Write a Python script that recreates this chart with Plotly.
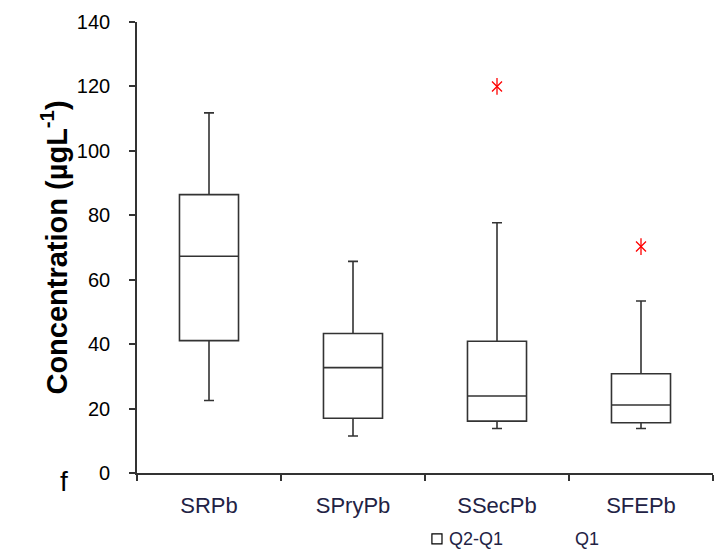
import plotly.graph_objects as go

categories = ["SRPb", "SPryPb", "SSecPb", "SFEPb"]
whisker_low = [22.5, 11.5, 13.8, 13.8]
q1 = [41.1, 17.0, 16.1, 15.6]
median = [67.3, 32.7, 23.9, 21.1]
q3 = [86.4, 43.3, 40.9, 30.8]
whisker_high = [111.8, 65.7, 77.7, 53.4]

outlier_cats = ["SSecPb", "SFEPb"]
outlier_vals = [120.0, 70.3]

y_ticks = [0, 20, 40, 60, 80, 100, 120, 140]

FONT = "Liberation Sans, Arial, sans-serif"
LINE = "#333333"

fig = go.Figure()
fig.add_trace(go.Box(
    x=categories, q1=q1, median=median, q3=q3,
    lowerfence=whisker_low, upperfence=whisker_high,
    width=0.41, whiskerwidth=0.17,
    fillcolor="white", line=dict(color=LINE, width=1.6),
    boxpoints=False, showlegend=False, hoverinfo="skip",
))
for sym in ["x-thin-open", "line-ns-open"]:
    fig.add_trace(go.Scatter(
        x=outlier_cats, y=outlier_vals, mode="markers",
        marker=dict(symbol=sym, size=10 if sym == "x-thin-open" else 12,
                    color="red", line=dict(color="red", width=1.3)),
        showlegend=False, hoverinfo="skip",
    ))

fig.update_layout(
    width=722, height=551,
    margin=dict(l=137, r=9, t=22, b=78),
    plot_bgcolor="white", paper_bgcolor="white",
    font=dict(family=FONT, color="black"),
    showlegend=False,
    xaxis=dict(
        type="category", categoryorder="array", categoryarray=categories,
        range=[-0.5, 3.5], showline=True, linecolor=LINE, linewidth=1.6,
        ticks="outside", ticklen=6, tickcolor=LINE, tickwidth=1.6,
        tickson="boundaries", showgrid=False, zeroline=False,
        tickfont=dict(size=22, color="#222244"), ticklabelstandoff=12,
    ),
    yaxis=dict(
        range=[0, 140], tickvals=y_ticks, showline=True, linecolor=LINE,
        linewidth=1.6, ticks="outside", ticklen=6, tickcolor=LINE,
        tickwidth=1.6, showgrid=False, zeroline=False,
        tickfont=dict(size=20, color="black"), ticklabelstandoff=15,
        title=dict(text="<b>Concentration (µgL<sup>-1</sup>)</b>",
                   font=dict(size=29, color="black"), standoff=1),
    ),
)

fig.add_annotation(text="f", xref="paper", yref="paper", x=-0.127, y=-0.018,
                   xanchor="center", yanchor="middle", showarrow=False,
                   font=dict(size=28, color="black"))
fig.add_shape(type="rect", xref="paper", yref="paper",
              x0=0.512, x1=0.5295, y0=-0.157, y1=-0.135,
              line=dict(color="black", width=1.2), fillcolor="white")
fig.add_annotation(text="Q2-Q1", xref="paper", yref="paper", x=0.538, y=-0.146,
                   xanchor="left", yanchor="middle", showarrow=False,
                   font=dict(size=18, color="#222244"))
fig.add_annotation(text="Q1", xref="paper", yref="paper", x=0.757, y=-0.146,
                   xanchor="left", yanchor="middle", showarrow=False,
                   font=dict(size=18, color="#222244"))

fig.write_html("out.html", config={"displayModeBar": False})

with open("out.html", "r", encoding="utf-8") as f:
    html = f.read()
html = html.replace("<head>", "<head><style>html,body{margin:0;padding:0;overflow:hidden;}</style>", 1)
with open("out.html", "w", encoding="utf-8") as f:
    f.write(html)
